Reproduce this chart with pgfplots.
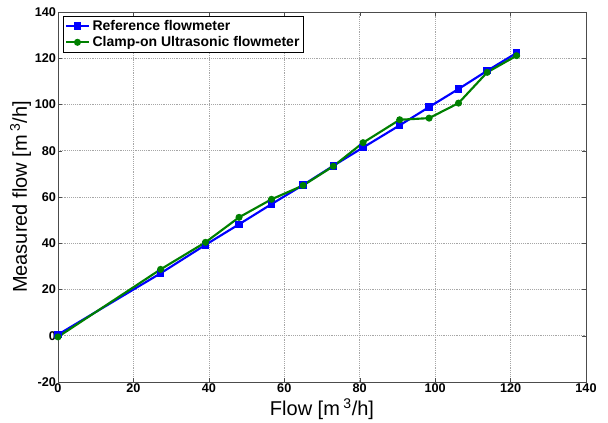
\documentclass[border=0pt]{standalone}
\usepackage{pgfplots}
\pgfplotsset{compat=1.18}
\usepackage{fontspec}
\setmainfont{Liberation Sans}
\definecolor{mblue}{RGB}{0,0,255}
\definecolor{mgreen}{RGB}{0,128,0}

\begin{document}
\begin{tikzpicture}
\begin{axis}[
  scale only axis,
  width=396pt, height=277.5pt,
  xmin=0, xmax=140, ymin=-20, ymax=140,
  xtick={0,20,...,140}, ytick={-20,0,...,140},
  grid=major, grid style={densely dotted, black!35, line width=0.5pt},
  axis line style={black!70, line width=0.6pt},
  tick align=inside, major tick length=3pt,
  tick style={black!70},
  /pgf/number format/assume math mode=true,
  tick label style={font=\fontsize{9.5}{11}\selectfont\bfseries},
  xticklabel style={yshift=2pt},
  yticklabel style={xshift=2pt},
  xlabel={Flow [m\,\textsuperscript{3}/h]},
  ylabel={Measured flow [m\,\textsuperscript{3}/h]},
  label style={font=\fontsize{15}{17}\selectfont},
  xlabel style={yshift=2.5pt},
  ylabel style={yshift=-4pt},
  legend style={at={(0.01,0.99)}, anchor=north west, draw=black, line width=0.6pt,
    font=\fontsize{10.5}{12}\selectfont\bfseries, inner sep=1pt, row sep=-1pt},
  legend cell align=left,
  every axis plot/.append style={line width=1.6pt},
]
\addplot[mblue, mark=square*, mark size=2pt] coordinates {
 (0,0.5)(27.2,27.0)(39.1,39.3)(48.0,48.2)(56.6,56.9)(65.0,65.2)(73.0,73.5)
 (80.9,81.4)(90.6,91.0)(98.4,98.9)(106.2,106.7)(113.8,114.6)(121.6,122.3)
};
\addlegendentry{Reference flowmeter}
\addplot[mgreen, mark=*, mark size=1.8pt] coordinates {
 (0,-0.5)(27.2,28.7)(39.1,40.4)(48.0,51.2)(56.6,59.0)(65.0,65.0)(73.0,73.3)
 (80.9,83.5)(90.6,93.4)(98.4,94.1)(106.2,100.6)(113.8,113.9)(121.6,121.1)
};
\addlegendentry{Clamp-on Ultrasonic flowmeter}
\end{axis}
\pgfresetboundingbox
\path[use as bounding box] ([xshift=-43.5pt,yshift=-30.75pt]current axis.south west)
  rectangle ([xshift=16.5pt,yshift=9pt]current axis.north east);
\end{tikzpicture}
\end{document}
